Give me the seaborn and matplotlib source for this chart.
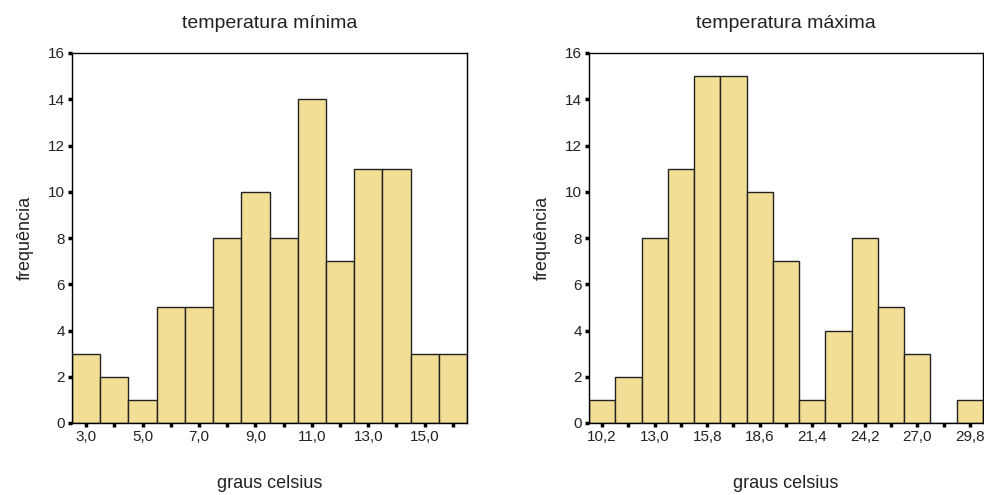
import matplotlib
matplotlib.use("Agg")
import matplotlib.pyplot as plt
import seaborn as sns
import numpy as np

# data
min_centers = [3.0, 4.0, 5.0, 6.0, 7.0, 8.0, 9.0, 10.0, 11.0, 12.0, 13.0, 14.0, 15.0, 16.0]
min_counts = [3, 2, 1, 5, 5, 8, 10, 8, 14, 7, 11, 11, 3, 3]
max_centers = [10.2, 11.6, 13.0, 14.4, 15.8, 17.2, 18.6, 20.0, 21.4, 22.8, 24.2, 25.6, 27.0, 28.4, 29.8]
max_counts = [1, 2, 8, 11, 15, 15, 10, 7, 1, 4, 8, 5, 3, 0, 1]
min_ticklabels = ["3,0", "5,0", "7,0", "9,0", "11,0", "13,0", "15,0"]
max_ticklabels = ["10,2", "13,0", "15,8", "18,6", "21,4", "24,2", "27,0", "29,8"]
titles = ["temperatura mínima", "temperatura máxima"]
xlabel = "graus celsius"
ylabel = "frequência"

sns.set_style("white")
plt.rcParams['font.family'] = ['Liberation Sans', 'DejaVu Sans']

fig = plt.figure(figsize=(9.84, 4.95), dpi=100)
ax1 = fig.add_axes([72/984, 1-423/495, 395/984, 370/495])
ax2 = fig.add_axes([589/984, 1-423/495, 394/984, 370/495])

fill = "#F3DE95"
edge = "#222222"

for ax, centers, counts, width, labels, title in [
    (ax1, min_centers, min_counts, 1.0, min_ticklabels, titles[0]),
    (ax2, max_centers, max_counts, 1.4, max_ticklabels, titles[1]),
]:
    lo = centers[0] - width/2
    hi = centers[-1] + width/2
    sns.histplot(x=centers, weights=counts, binwidth=width, binrange=(lo, hi),
                 color=fill, edgecolor=edge, linewidth=1.0, alpha=1.0, ax=ax)
    ax.set_xlim(lo, hi)
    ax.set_ylim(0, 16)
    ax.set_yticks(range(0, 17, 2))
    ax.set_yticklabels([str(v) for v in range(0, 17, 2)], fontsize=11, color='#222222')
    ax.set_xticks(centers)
    tl = []
    j = 0
    for i in range(len(centers)):
        if i % 2 == 0:
            tl.append(labels[j]); j += 1
        else:
            tl.append("")
    ax.set_xticklabels(tl, fontsize=11, color='#222222')
    ax.tick_params(axis='both', direction='out', length=3, width=2.5, color='black',
                   bottom=True, left=True, pad=2)
    for s in ax.spines.values():
        s.set_visible(True)
        s.set_color('black')
        s.set_linewidth(1.0)
    ax.set_title(title, fontsize=14, pad=18, color='#222222')
    ax.set_xlabel(xlabel, fontsize=13, labelpad=22, color='#222222')
    ax.set_ylabel(ylabel, fontsize=13, labelpad=10, color='#222222')

fig.savefig("out.png", dpi=100)
